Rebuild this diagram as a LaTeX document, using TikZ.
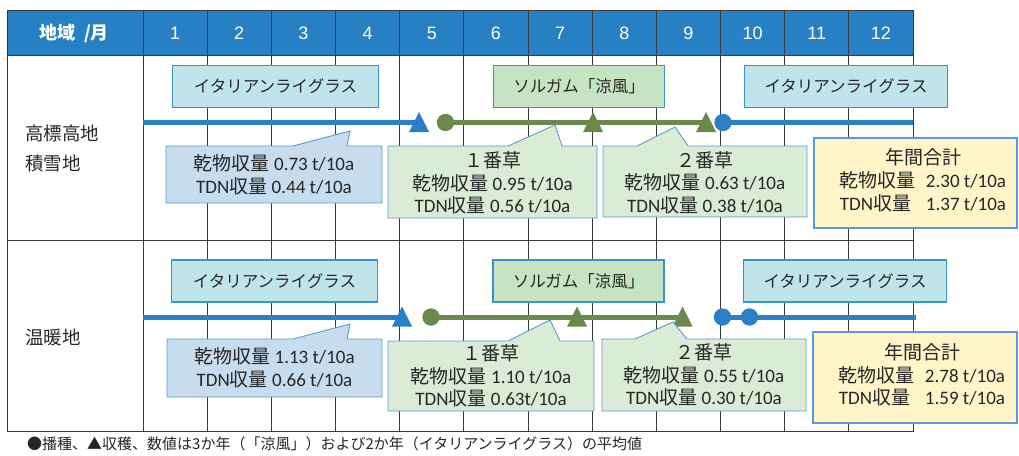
\documentclass[tikz,border=0pt]{standalone}
\usepackage{fontspec}
\setmainfont{Carlito}
\newfontfamily\cjk{Noto Sans CJK JP}
\newfontfamily\hdr{Liberation Sans}
\definecolor{hdrblue}{HTML}{2880C4}
\definecolor{lineblue}{HTML}{2A7FC5}
\definecolor{linegreen}{HTML}{6A8A4C}
\definecolor{irfill}{HTML}{BFE5EA}
\definecolor{sgfill}{HTML}{C6E3C3}
\definecolor{boxborder}{HTML}{3A94CC}
\definecolor{cbblue}{HTML}{C7DCEC}
\definecolor{cbgreen}{HTML}{DAEBD6}
\definecolor{cyellow}{HTML}{FFF5C8}
\definecolor{cborder}{HTML}{5B9BD5}
\definecolor{gridc}{HTML}{3A3A3A}
\definecolor{txt}{HTML}{262626}
\newcommand\mycallout[9]{%
  \filldraw[fill=#9,draw=cborder,line width=0.9pt,line join=miter]
    (#1,#2) -- (#5,#2) -- (#6,#7) -- (#8,#2) -- (#3,#2) -- (#3,#4) -- (#1,#4) -- cycle;}
\newcommand\mytri[3]{%
  \fill[#3] (#1-10,#2+9.5) -- (#1,#2-10.5) -- (#1+10,#2+9.5) -- cycle;}
\begin{document}
\begin{tikzpicture}[x=1pt,y=-1pt,
  gridline/.style={draw=gridc,line width=0.9pt},
  hdrtext/.style={text=white,font=\hdr\fontsize{18}{20}\selectfont,inner sep=0pt},
  rowlabel/.style={text=txt,font=\cjk\fontsize{18.5}{30}\selectfont,align=left,anchor=west,inner sep=0pt},
  irbox/.style={draw=boxborder,fill=irfill,line width=1.2pt,minimum width=206pt,minimum height=42pt,inner sep=0pt,text=txt,font=\cjk\fontsize{16.5}{18}\selectfont},
  sgbox/.style={draw=boxborder,fill=sgfill,line width=1.2pt,minimum width=171pt,minimum height=42pt,inner sep=0pt,text=txt,font=\cjk\fontsize{16.5}{18}\selectfont},
  ctext/.style={text=txt,font=\fontsize{19}{23}\selectfont,align=center,inner sep=0pt},
  ctext3/.style={text=txt,font=\fontsize{19}{22.5}\selectfont,align=center,inner sep=0pt},
  bline/.style={draw=lineblue,line width=5pt},
  gline/.style={draw=linegreen,line width=5pt},
  bdot/.style={circle,fill=lineblue,minimum size=17pt,inner sep=0pt},
  gdot/.style={circle,fill=linegreen,minimum size=17pt,inner sep=0pt},
  note/.style={text=txt,font=\cjk\fontsize{15}{16}\selectfont,anchor=west,inner sep=0pt}]
\useasboundingbox (0,0) rectangle (1019,455);
\fill[white] (0,0) rectangle (1019,455);
% header band
\fill[hdrblue] (7,10) rectangle (913,55);
% grid
\foreach \i in {0,...,12} {\draw[gridline] ({143+\i*64.1667},10) -- ({143+\i*64.1667},431);}
\draw[gridline] (7,10) rectangle (913,431);
\draw[gridline] (7,55) -- (913,55);
\draw[gridline] (7,240) -- (913,240);
% header texts
\node[hdrtext,font=\cjk\bfseries\fontsize{18}{20}\selectfont] (hd) at (74,33) {地域\hspace{9pt}/月};
\foreach \m in {1,...,12} {\node[hdrtext] (m\m) at ({143+(\m-0.5)*64.1667},33) {\m};}
% row labels
\node[rowlabel] (r1) at (25,148) {高標高地\\積雪地};
\node[rowlabel] (r2) at (25,337) {温暖地};
% crop boxes row 1
\node[irbox] (ir1a) at (275.5,86.5) {イタリアンライグラス};
\node[sgbox] (sg1) at (579,86.5) {ソルガム「涼風」};
\node[irbox,minimum width=203pt] (ir1b) at (846,86.5) {イタリアンライグラス};
% crop boxes row 2
\node[irbox] (ir2a) at (274.5,281) {イタリアンライグラス};
\node[sgbox] (sg2) at (578.5,281) {ソルガム「涼風」};
\node[irbox,minimum width=203pt] (ir2b) at (845,281) {イタリアンライグラス};
% ---- row 1 timeline
\coordinate (b1s) at (143,122.5);
\coordinate (t1a) at (419,122.5);
\coordinate (t1b) at (593,122.5);
\coordinate (t1c) at (706,122.5);
\coordinate (b1e) at (913,122.5);
\node[gdot] (g1) at (445.5,122.5) {};
\node[bdot] (d1) at (723,122.5) {};
\draw[bline] (b1s) -- (t1a);
\draw[gline] (g1.center) -- (t1c);
\draw[bline] (d1.center) -- (b1e);
\mytri{419}{122.5}{lineblue}
\mytri{593}{122.5}{linegreen}
\mytri{706}{122.5}{linegreen}
\node[gdot] at (g1) {};
\node[bdot] at (d1) {};
% ---- row 2 timeline
\coordinate (b2s) at (143,317);
\coordinate (t2a) at (402,317);
\coordinate (t2b) at (577,317);
\coordinate (t2c) at (682.5,317);
\coordinate (b2e) at (916,317);
\node[gdot] (g2) at (431,317) {};
\node[bdot] (d2) at (722.5,317) {};
\node[bdot] (d3) at (749.5,317) {};
\draw[bline] (b2s) -- (t2a);
\draw[gline] (g2.center) -- (t2c);
\draw[bline] (d2.center) -- (b2e);
\mytri{402}{317}{lineblue}
\mytri{577}{317}{linegreen}
\mytri{682.5}{317}{linegreen}
\node[gdot] at (g2) {};
\node[bdot] at (d2) {};
\node[bdot] at (d3) {};
% ---- row 1 callouts
\mycallout{166}{146}{382}{203}{293}{350}{131}{347}{cbblue}
\node[ctext] (c1a) at (274,174.5) {{\cjk 乾物収量} 0.73 t/10a\\TDN{\cjk 収量} 0.44 t/10a};
\mycallout{388}{146}{597}{218}{508}{555}{125}{562}{cbgreen}
\node[ctext3] (c1b) at (492.5,183) {{\cjk １番草}\\{\cjk 乾物収量} 0.95 t/10a\\TDN{\cjk 収量} 0.56 t/10a};
\mycallout{603}{146}{807}{217}{637}{675}{127}{688}{cbgreen}
\node[ctext3] (c1c) at (705,182.5) {{\cjk ２番草}\\{\cjk 乾物収量} 0.63 t/10a\\TDN{\cjk 収量} 0.38 t/10a};
\filldraw[fill=cyellow,draw=cborder,line width=1.2pt] (814,138) rectangle (1017,228);
\node[ctext3] (c1d) at (923,183) {\begin{tabular}{@{}l@{}r@{}}\multicolumn{2}{c}{\cjk 年間合計}\\{\cjk 乾物収量}\hspace{10pt} & 2.30 t/10a\\TDN{\cjk 収量}\hspace{10pt} & 1.37 t/10a\end{tabular}};
% ---- row 2 callouts
\mycallout{167}{339}{382}{397}{293}{350}{324}{347}{cbblue}
\node[ctext] (c2a) at (274.5,368) {{\cjk 乾物収量} 1.13 t/10a\\TDN{\cjk 収量} 0.66 t/10a};
\mycallout{388}{341}{594}{411}{508}{550}{320}{560}{cbgreen}
\node[ctext3] (c2b) at (491,376) {{\cjk １番草}\\{\cjk 乾物収量} 1.10 t/10a\\TDN{\cjk 収量} 0.63t/10a};
\mycallout{602}{339}{806}{411}{635}{673}{322}{687}{cbgreen}
\node[ctext3] (c2c) at (704,375) {{\cjk ２番草}\\{\cjk 乾物収量} 0.55 t/10a\\TDN{\cjk 収量} 0.30 t/10a};
\filldraw[fill=cyellow,draw=cborder,line width=1.2pt] (813,332) rectangle (1017,423);
\node[ctext3] (c2d) at (922,377.5) {\begin{tabular}{@{}l@{}r@{}}\multicolumn{2}{c}{\cjk 年間合計}\\{\cjk 乾物収量}\hspace{10pt} & 2.78 t/10a\\TDN{\cjk 収量}\hspace{10pt} & 1.59 t/10a\end{tabular}};
% note
\node[note] (nt) at (27,444) {●播種、▲収穫、数値は3か年（「涼風」）および2か年（イタリアンライグラス）の平均値};
\end{tikzpicture}
\end{document}
